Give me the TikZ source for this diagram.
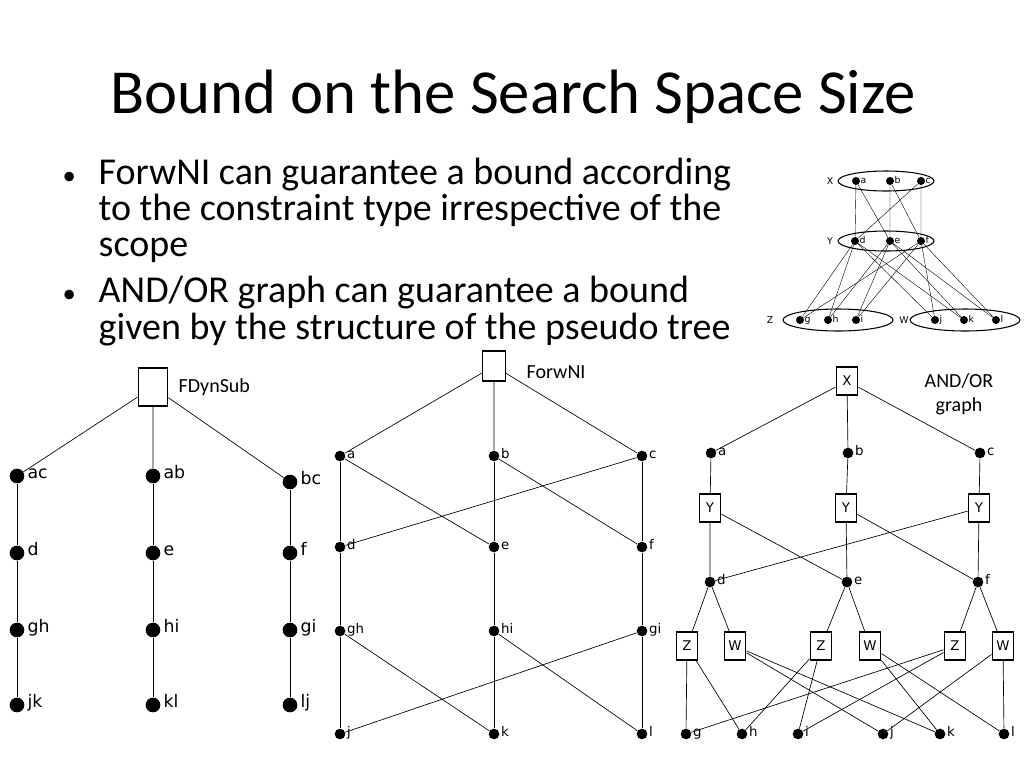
\documentclass[tikz,border=0pt]{standalone}
\usepackage{fontspec}
\setmainfont{Carlito}
\newfontfamily\lblfont{DejaVu Sans}
\usetikzlibrary{shapes.geometric}

\tikzset{
  dotbig/.style={circle, fill=black, inner sep=0pt, minimum size=11pt},
  dotmid/.style={circle, fill=black, inner sep=0pt, minimum size=8pt},
  dotsmall/.style={circle, fill=black, inner sep=0pt, minimum size=6pt},
  orbox/.style={draw, line width=1.2pt, inner sep=0pt, minimum width=#1, minimum height=1.3*#1, font=\lblfont\fontsize{10}{10}\selectfont},
  edge/.style={draw, line width=0.5pt},
  lbl/.style={text height=1.1ex, text depth=0.2ex, inner sep=1pt},
}

\begin{document}
\begin{tikzpicture}[x=0.75pt, y=-0.75pt]
        \useasboundingbox (0,0) rectangle (1024,768);

        % Title and bullets
        \node[anchor=west, font=\fontsize{47}{47}\selectfont] (title) at (106,97) {Bound on the Search Space Size};
        \begin{scope}[every node/.style={anchor=west, font=\fontsize{28.5}{28.5}\selectfont, text height=2ex, text depth=0.5ex}]
            \node[font=\fontsize{20}{20}\selectfont] (b1) at (58,180) {•};
            \node (l1) at (94,180) {ForwNI can guarantee a bound according};
            \node (l2) at (94,216) {to the constraint type irrespective of the};
            \node (l3) at (94,252) {scope};
            \node[font=\fontsize{20}{20}\selectfont] (b2) at (58,298) {•};
            \node (l4) at (94,298) {AND/OR graph can guarantee a bound};
            \node (l5) at (94,335) {given by the structure of the pseudo tree};
        \end{scope}

        % Left tree (FDynSub)
        \node[orbox=22pt] (r1) at (153,387) {};
        \node[anchor=west, font=\fontsize{15}{15}\selectfont] (t1) at (174,387) {FDynSub};
        \begin{scope}[every label/.style={lbl, font=\lblfont\fontsize{13}{13}\selectfont, label distance=1pt}]
            \node[dotbig, label=right:ac] (ac) at (17,476) {};
            \node[dotbig, label=right:ab] (ab) at (153,476) {};
            \node[dotbig, label=right:bc] (bc) at (290,482) {};
            \node[dotbig, label=right:d] (d1) at (17,553) {};
            \node[dotbig, label=right:e] (e1) at (153,553) {};
            \node[dotbig, label=right:f] (f1) at (290,553) {};
            \node[dotbig, label=right:gh] (gh1) at (17,630) {};
            \node[dotbig, label=right:hi] (hi1) at (153,630) {};
            \node[dotbig, label=right:gi] (gi1) at (290,630) {};
            \node[dotbig, label=right:jk] (jk) at (17,705) {};
            \node[dotbig, label=right:kl] (kl) at (153,705) {};
            \node[dotbig, label=right:lj] (lj) at (290,705) {};
        \end{scope}
        \draw[edge] (r1) -- (ac) (r1) -- (ab) (r1) -- (bc);
        \draw[edge] (ac) -- (d1) -- (gh1) -- (jk);
        \draw[edge] (ab) -- (e1) -- (hi1) -- (kl);
        \draw[edge] (bc) -- (f1) -- (gi1) -- (lj);

        % Middle tree (ForwNI)
        \node[orbox=17pt] (r2) at (494,366) {};
        \node[anchor=west, font=\fontsize{15}{15}\selectfont] (t2) at (522,372) {ForwNI};
        \begin{scope}[every label/.style={lbl, font=\lblfont\fontsize{10}{10}\selectfont, label distance=0pt}]
            \node[dotmid, label=right:a] (a2) at (340,456) {};
            \node[dotmid, label=right:b] (b2) at (494,456) {};
            \node[dotmid, label=right:c] (c2) at (642,456) {};
            \node[dotmid, label=right:d] (d2) at (340,547) {};
            \node[dotmid, label=right:e] (e2) at (494,547) {};
            \node[dotmid, label=right:f] (f2) at (642,547) {};
            \node[dotmid, label=right:gh] (gh2) at (340,631) {};
            \node[dotmid, label=right:hi] (hi2) at (494,631) {};
            \node[dotmid, label=right:gi] (gi2) at (642,631) {};
            \node[dotmid, label=right:j] (j2) at (340,734) {};
            \node[dotmid, label=right:k] (k2) at (494,734) {};
            \node[dotmid, label=right:l] (l2n) at (642,734) {};
        \end{scope}
        \draw[edge] (r2) -- (a2) (r2) -- (b2) (r2) -- (c2);
        \draw[edge] (a2) -- (d2) -- (gh2) -- (j2);
        \draw[edge] (b2) -- (e2) -- (hi2) -- (k2);
        \draw[edge] (c2) -- (f2) -- (gi2) -- (l2n);
        \draw[edge] (a2) -- (e2) (b2) -- (f2) (c2) -- (d2);
        \draw[edge] (gh2) -- (k2) (hi2) -- (l2n) (gi2) -- (j2);

        % Right tree (AND/OR graph)
        \node[orbox=16pt] (x3) at (847,381) {X};
        \node[align=center, font=\fontsize{15}{18}\selectfont] (t3) at (959,394) {AND/OR\\graph};
        \begin{scope}[every label/.style={lbl, font=\lblfont\fontsize{10}{10}\selectfont, label distance=0pt}]
            \node[dotmid, label=right:a] (a3) at (711,453) {};
            \node[dotmid, label=right:b] (b3) at (848,453) {};
            \node[dotmid, label=right:c] (c3) at (980,453) {};
            \node[dotmid, label=right:d] (d3) at (710,582) {};
            \node[dotmid, label=right:e] (e3) at (847,582) {};
            \node[dotmid, label=right:f] (f3) at (978,582) {};
            \node[dotmid, label=right:g] (g3) at (686,734) {};
            \node[dotmid, label=right:h] (h3) at (742,734) {};
            \node[dotmid, label=right:i] (i3) at (798,734) {};
            \node[dotmid, label=right:j] (j3) at (883,734) {};
            \node[dotmid, label=right:k] (k3) at (940,734) {};
            \node[dotmid, label=right:l] (l3n) at (1004,734) {};
        \end{scope}
        \node[orbox=16pt] (y1) at (710,508) {Y};
        \node[orbox=16pt] (y2) at (846,508) {Y};
        \node[orbox=16pt] (y3) at (979,508) {Y};
        \node[orbox=16pt] (z1) at (687,646) {Z};
        \node[orbox=16pt] (w1) at (735,646) {W};
        \node[orbox=16pt] (z2) at (821,646) {Z};
        \node[orbox=16pt] (w2) at (870,646) {W};
        \node[orbox=16pt] (z3) at (955,646) {Z};
        \node[orbox=16pt] (w3) at (1003,646) {W};
        \draw[edge] (x3) -- (a3) (x3) -- (b3) (x3) -- (c3);
        \draw[edge] (a3) -- (y1) (b3) -- (y2) (c3) -- (y3);
        \draw[edge] (y1) -- (d3) (y1) -- (e3) (y2) -- (e3) (y2) -- (f3) (y3) -- (f3) (y3) -- (d3);
        \draw[edge] (d3) -- (z1) (d3) -- (w1) (e3) -- (z2) (e3) -- (w2) (f3) -- (z3) (f3) -- (w3);
        \draw[edge] (z1) -- (g3) (z1) -- (h3) (w1) -- (j3) (w1) -- (k3);
        \draw[edge] (z2) -- (h3) (z2) -- (i3) (w2) -- (k3) (w2) -- (l3n);
        \draw[edge] (z3) -- (g3) (z3) -- (i3) (w3) -- (j3) (w3) -- (l3n);

        % Primal graph (top right)
        \draw[line width=0.8pt] (886,181) ellipse (48 and 10);
        \draw[line width=0.8pt] (886,241) ellipse (48 and 10);
        \draw[line width=0.8pt] (838,320) ellipse (55 and 11);
        \draw[line width=0.8pt] (965,320) ellipse (55 and 11);
        \begin{scope}[every node/.style={font=\lblfont\fontsize{7}{7}\selectfont}, every label/.style={lbl, font=\lblfont\fontsize{7}{7}\selectfont, label distance=-1pt}]
            \node (gx) at (830,181) {X};
            \node (gy) at (830,241) {Y};
            \node (gz) at (770,320) {Z};
            \node (gw) at (904,320) {W};
            \node[dotsmall, label=right:a] (pa) at (856,181) {};
            \node[dotsmall, label=right:b] (pb) at (890,181) {};
            \node[dotsmall, label=right:c] (pc) at (921,181) {};
            \node[dotsmall, label=right:d] (pd) at (855,241) {};
            \node[dotsmall, label=right:e] (pe) at (890,241) {};
            \node[dotsmall, label=right:f] (pf) at (921,241) {};
            \node[dotsmall, label=right:g] (pg) at (800,320) {};
            \node[dotsmall, label=right:h] (ph) at (828,320) {};
            \node[dotsmall, label=right:i] (pi) at (856,320) {};
            \node[dotsmall, label=right:j] (pj) at (935,320) {};
            \node[dotsmall, label=right:k] (pk) at (964,320) {};
            \node[dotsmall, label=right:l] (pl) at (996,320) {};
        \end{scope}
        \draw[line width=0.3pt] (pa) -- (pd) (pa) -- (pe) (pb) -- (pe) (pb) -- (pf) (pc) -- (pd) (pc) -- (pf);
        \draw[line width=0.3pt] (pd) -- (pg) (pd) -- (ph) (pd) -- (pj) (pd) -- (pk);
        \draw[line width=0.3pt] (pe) -- (ph) (pe) -- (pi) (pe) -- (pk) (pe) -- (pl);
        \draw[line width=0.3pt] (pf) -- (pg) (pf) -- (pi) (pf) -- (pj) (pf) -- (pl);
\end{tikzpicture}
\end{document}
